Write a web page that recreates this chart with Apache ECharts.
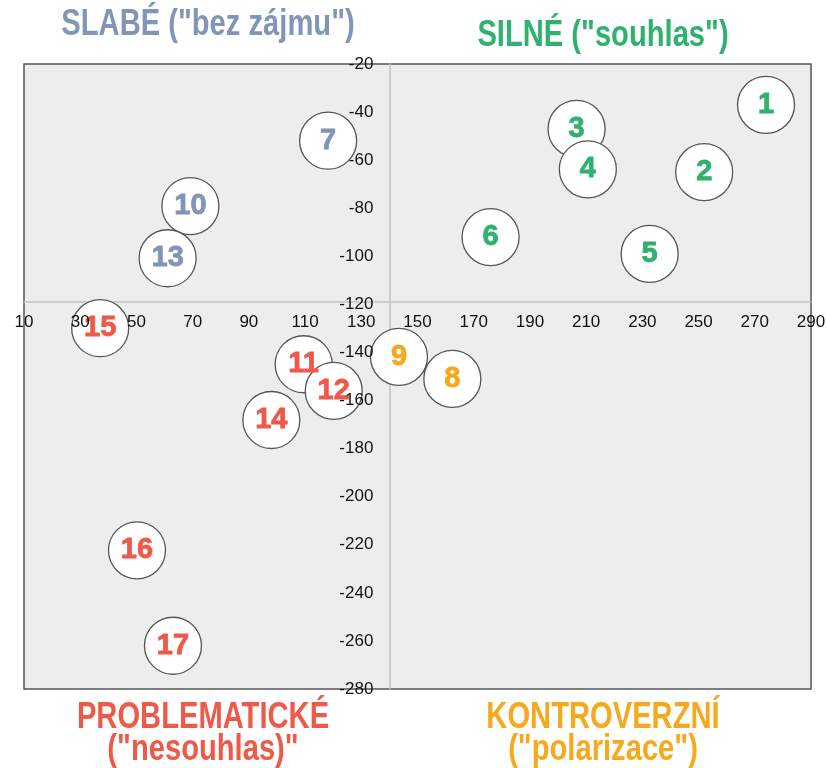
<!DOCTYPE html>
<html>
<head>
<meta charset="utf-8">
<script src="https://cdn.jsdelivr.net/npm/echarts@6/dist/echarts.min.js"></script>
<style>
html, body { margin: 0; padding: 0; background: #fff; }
#chart { width: 827px; height: 768px; }
</style>
</head>
<body>
<div id="chart"></div>
<script>
// bubble ids, positions and quadrant groups
var ids = [1, 2, 3, 4, 5, 6, 7, 8, 9, 10, 11, 12, 13, 14, 15, 16, 17];
var xValues = [274, 252, 206.6, 210.6, 232.6, 176, 118.2, 162.4, 143.4, 69.2, 109.5, 120.2, 61.1, 98, 37.1, 50.2, 63];
var yValues = [-37, -65, -47, -63.8, -99, -92, -51.9, -151, -141.8, -79.1, -144.9, -156, -100.8, -168.1, -129.9, -222.3, -262];
var groups = ['silne', 'silne', 'silne', 'silne', 'silne', 'silne', 'slabe', 'kontroverzni', 'kontroverzni', 'slabe',
	'problematicke', 'problematicke', 'slabe', 'problematicke', 'problematicke', 'problematicke', 'problematicke'];

var xTicks = [10, 30, 50, 70, 90, 110, 130, 150, 170, 190, 210, 230, 250, 270, 290];
var yTicks = [-280, -260, -240, -220, -200, -180, -160, -140, -120, -100, -80, -60, -40, -20];

var xMin = 10, xMax = 290, yMin = -280, yMax = -20;
var crossX = 140, crossY = -119;

var groupColors = {
	slabe: '#8195b6',
	silne: '#2fb170',
	problematicke: '#ee5a4a',
	kontroverzni: '#f6a81e'
};

var gridLeft = 24, gridRight = 16, gridTop = 64, gridBottom = 79;

function buildData() {
	var data = [];
	for (var i = 0; i < ids.length; i++) {
		data.push({
			value : [ xValues[i], yValues[i], ids[i] ],
			groupName : groups[i]
		});
	}
	return data;
}

function titleText(text, x, y, color) {
	return {
		type : 'text',
		x : x,
		y : y,
		scaleX : 0.81,
		z : 100,
		style : {
			text : text,
			fill : color,
			font : 'bold 36px "Liberation Sans", Arial, sans-serif',
			textAlign : 'center',
			textVerticalAlign : 'middle',
			align : 'center',
			verticalAlign : 'middle'
		}
	};
}

var myChart = echarts.init(document.getElementById('chart'), null, { renderer : 'canvas' });
var plotW = myChart.getWidth() - gridLeft - gridRight;
var plotH = myChart.getHeight() - gridTop - gridBottom;
var yAxisOffset = -(crossX - xMin) / (xMax - xMin) * plotW;
var xAxisOffset = -(crossY - yMin) / (yMax - yMin) * plotH;

// one rich style per quadrant so the numbers get the group colour
var richStyles = {};
Object.keys(groupColors).forEach(function(g) {
	richStyles[g] = {
		color : groupColors[g],
		fontSize : 29,
		fontWeight : 700,
		fontFamily : 'Liberation Sans',
		textBorderColor : groupColors[g],
		textBorderWidth : 0.8
	};
});

var labelFont = {
	color : '#111',
	fontSize : 17,
	fontFamily : 'Liberation Sans'
};

var lineAxis = {
	type : 'value',
	axisLine : { show : true, onZero : false, lineStyle : { color : '#c2c2c2', width : 1.5 } },
	axisTick : { show : false },
	axisLabel : { show : false },
	splitLine : { show : false },
	z : 0
};

var labelAxis = {
	type : 'value',
	axisLine : { show : false, onZero : false },
	axisTick : { show : false },
	splitLine : { show : false },
	z : 10
};

var option = {
	animation : false,
	backgroundColor : '#ffffff',
	grid : {
		left : gridLeft,
		right : gridRight,
		top : gridTop,
		bottom : gridBottom,
		show : true,
		backgroundColor : '#ededed',
		borderColor : '#555555',
		borderWidth : 1.5,
		containLabel : false,
		outerBoundsMode : 'none'
	},
	xAxis : [
		echarts.util.merge({ min : xMin, max : xMax, position : 'bottom', offset : xAxisOffset }, lineAxis),
		echarts.util.merge({ min : xMin, max : xMax, position : 'bottom', offset : xAxisOffset,
			axisLabel : echarts.util.merge({ show : true, margin : 12, customValues : xTicks }, labelFont) }, labelAxis)
	],
	yAxis : [
		echarts.util.merge({ min : yMin, max : yMax, position : 'left', offset : yAxisOffset }, lineAxis),
		echarts.util.merge({ min : yMin, max : yMax, position : 'left', offset : yAxisOffset,
			axisLabel : echarts.util.merge({ show : true, margin : 16, customValues : yTicks }, labelFont) }, labelAxis)
	],
	series : [ {
		type : 'scatter',
		xAxisIndex : 0,
		yAxisIndex : 0,
		symbol : 'circle',
		symbolSize : 57,
		z : 2,
		itemStyle : {
			color : '#ffffff',
			borderColor : '#555555',
			borderWidth : 1.3,
			opacity : 1
		},
		label : {
			show : true,
			position : 'inside',
			formatter : function(p) { return '{' + p.data.groupName + '|' + p.value[2] + '}'; },
			rich : richStyles
		},
		emphasis : { disabled : true },
		data : buildData()
	} ],
	graphic : [
		titleText('SLABÉ ("bez zájmu")', 208, 25, groupColors.slabe),
		titleText('SILNÉ ("souhlas")', 603, 36, groupColors.silne),
		titleText('PROBLEMATICKÉ', 203, 718, groupColors.problematicke),
		titleText('("nesouhlas)"', 203, 750, groupColors.problematicke),
		titleText('KONTROVERZNÍ', 603, 718, groupColors.kontroverzni),
		titleText('("polarizace")', 603, 750, groupColors.kontroverzni)
	]
};

myChart.setOption(option);
</script>
</body>
</html>
